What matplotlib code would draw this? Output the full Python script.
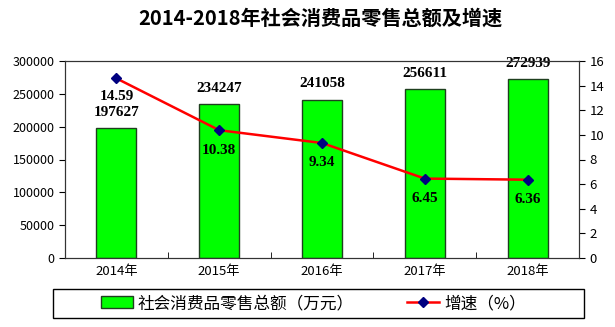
import matplotlib.pyplot as plt
from matplotlib.patches import Rectangle
import numpy as np

plt.rcParams['font.family'] = ['Noto Sans CJK SC', 'DejaVu Sans']

# 数据
years = ['2014年', '2015年', '2016年', '2017年', '2018年']
sales = [197627, 234247, 241058, 256611, 272939]
growth = [14.59, 10.38, 9.34, 6.45, 6.36]

x = np.arange(len(years))
num_font = ['Liberation Serif', 'DejaVu Serif']

fig = plt.figure(figsize=(6.15, 3.27), dpi=100)
ax = fig.add_axes([65 / 615, 69 / 327, 514 / 615, 197 / 327])

bars = ax.bar(x, sales, width=0.39, color='#00ff00', edgecolor='#1f3f1f',
              linewidth=1, label='社会消费品零售总额（万元）', zorder=2)
ax.set_xlim(-0.5, len(years) - 0.5)
ax.set_ylim(0, 300000)
ax.set_yticks(np.arange(0, 300001, 50000))
ax.set_xticks(x)
ax.set_xticklabels(years, fontsize=9.5)
ax.tick_params(axis='x', length=0, pad=5)
ax.set_xticks(np.arange(0.5, len(years) - 1, 1), minor=True)
ax.tick_params(axis='x', which='minor', direction='in', length=4)
ax.tick_params(axis='y', labelsize=9, length=4)
for s in ax.spines.values():
    s.set_color('#333333')

# 柱子数值
for xi, v in zip(x, sales):
    ax.text(xi, v + 24000, str(v), ha='center', va='center', fontsize=11,
            fontweight='bold', family=num_font)

ax2 = ax.twinx()
line, = ax2.plot(x, growth, color='#ff0000', linewidth=1.8, marker='D',
                 markersize=5, markerfacecolor='#000080',
                 markeredgecolor='#000080', label='增速（%）', zorder=3)
ax2.set_ylim(0, 16)
ax2.set_yticks(np.arange(0, 17, 2))
ax2.tick_params(axis='y', labelsize=9.5, length=4)
for s in ax2.spines.values():
    s.set_color('#333333')

# 折线数值
for i, (xi, g) in enumerate(zip(x, growth)):
    off = 1.5 if i == 0 else 1.62
    ax2.text(xi, g - off, f'{g:.2f}', ha='center', va='center', fontsize=11,
             fontweight='bold', family=num_font)

fig.text(320 / 615, 1 - 18 / 327, '2014-2018年社会消费品零售总额及增速',
         ha='center', va='center', fontsize=14.5, fontweight='bold')

leg = fig.legend(handles=[bars, line], loc='center', ncol=2,
                 bbox_to_anchor=(313.5 / 615, 1 - 303.5 / 327), fontsize=12,
                 frameon=False, columnspacing=3.2, handlelength=1.9,
                 handletextpad=0.3)
fig.patches.append(Rectangle((53 / 615, 9 / 327), 531 / 615, 29 / 327,
                             transform=fig.transFigure, fill=False,
                             edgecolor='black', linewidth=1))

fig.savefig('out.png', dpi=100)
